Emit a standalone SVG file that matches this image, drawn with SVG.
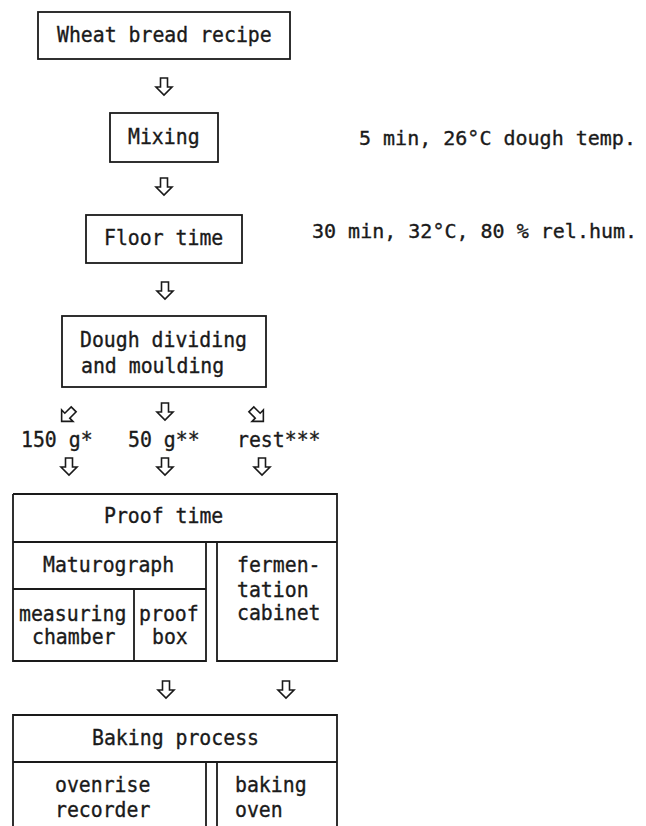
<svg xmlns="http://www.w3.org/2000/svg" width="646" height="826" viewBox="0 0 646 826">
<style>
.b{fill:none;stroke:#1a1a1a;stroke-width:1.8}
.a{fill:#fff;stroke:#1a1a1a;stroke-width:1.6;stroke-linejoin:miter}
text{font-family:"DejaVu Sans Mono","Liberation Mono",monospace;font-size:21px;fill:#1a1a1a;stroke:#1a1a1a;stroke-width:0.35}
.n{font-size:20px}
</style>
<defs>
<path id="arr" d="M-3.5,0 H3.5 V9 H8 L0,17 L-8,9 H-3.5 Z"/>
</defs>
<rect width="646" height="826" fill="#fff"/>
<g id="n-recipe"><rect class="b" x="38" y="12" width="252" height="47"/><text x="57" y="42" textLength="214.7" lengthAdjust="spacingAndGlyphs">Wheat bread recipe</text></g>
<g id="n-mixing"><rect class="b" x="110" y="113" width="108" height="49"/><text x="128" y="144" textLength="71.6" lengthAdjust="spacingAndGlyphs">Mixing</text></g>
<g id="n-mixing-note"><text class="n" x="359" y="145">5 min, 26°C dough temp.</text></g>
<g id="n-floor"><rect class="b" x="86" y="215" width="156" height="48"/><text x="104" y="245" textLength="119.3" lengthAdjust="spacingAndGlyphs">Floor time</text></g>
<g id="n-floor-note"><text class="n" x="312" y="238">30 min, 32°C, 80 % rel.hum.</text></g>
<g id="n-dividing"><rect class="b" x="62" y="316" width="204" height="71"/><text x="80" y="347" textLength="167" lengthAdjust="spacingAndGlyphs">Dough dividing</text><text x="81" y="373" textLength="143.2" lengthAdjust="spacingAndGlyphs">and moulding</text></g>
<g id="n-150"><text x="21" y="447" textLength="71.6" lengthAdjust="spacingAndGlyphs">150 g*</text></g>
<g id="n-50"><text x="128" y="447" textLength="71.6" lengthAdjust="spacingAndGlyphs">50 g**</text></g>
<g id="n-rest"><text x="237" y="447" textLength="83.5" lengthAdjust="spacingAndGlyphs">rest***</text></g>
<g id="n-proof">
<path class="b" d="M13,494 H337 V661 H217 V542 M13,542 H337 M206,542 V661 H13 V494 M13,589 H206 M134,589 V661"/>
<text x="104" y="523" textLength="119.3" lengthAdjust="spacingAndGlyphs">Proof time</text>
<text x="43" y="572" textLength="131.2" lengthAdjust="spacingAndGlyphs">Maturograph</text>
<text x="19" y="621" textLength="107.4" lengthAdjust="spacingAndGlyphs">measuring</text><text x="32" y="644" textLength="83.5" lengthAdjust="spacingAndGlyphs">chamber</text>
<text x="139" y="621" textLength="59.7" lengthAdjust="spacingAndGlyphs">proof</text><text x="152" y="644" textLength="35.8" lengthAdjust="spacingAndGlyphs">box</text>
<text x="237" y="572" textLength="83.5" lengthAdjust="spacingAndGlyphs">fermen-</text><text x="237" y="597" textLength="71.6" lengthAdjust="spacingAndGlyphs">tation</text><text x="237" y="620" textLength="83.5" lengthAdjust="spacingAndGlyphs">cabinet</text>
</g>
<g id="n-baking">
<path class="b" d="M13,828 V715 H337 V828 M13,762 H337 M206,762 V828 M217,762 V828"/>
<text x="92" y="745" textLength="167" lengthAdjust="spacingAndGlyphs">Baking process</text>
<text x="55" y="792" textLength="95.4" lengthAdjust="spacingAndGlyphs">ovenrise</text><text x="55" y="817" textLength="95.4" lengthAdjust="spacingAndGlyphs">recorder</text>
<text x="235" y="792" textLength="71.6" lengthAdjust="spacingAndGlyphs">baking</text><text x="235" y="817" textLength="47.7" lengthAdjust="spacingAndGlyphs">oven</text>
</g>
<g id="connectors">
<use href="#arr" class="a" x="164" y="78"/>
<use href="#arr" class="a" x="164" y="178"/>
<use href="#arr" class="a" x="165" y="282"/>
<use href="#arr" class="a" x="165" y="403"/>
<use href="#arr" class="a" transform="translate(68,415) rotate(45) translate(0,-8)"/>
<use href="#arr" class="a" transform="translate(257,415) rotate(-45) translate(0,-8)"/>
<use href="#arr" class="a" x="69" y="458"/>
<use href="#arr" class="a" x="165" y="458"/>
<use href="#arr" class="a" x="262" y="458"/>
<use href="#arr" class="a" x="166" y="681"/>
<use href="#arr" class="a" x="286" y="681"/>
</g>
</svg>
